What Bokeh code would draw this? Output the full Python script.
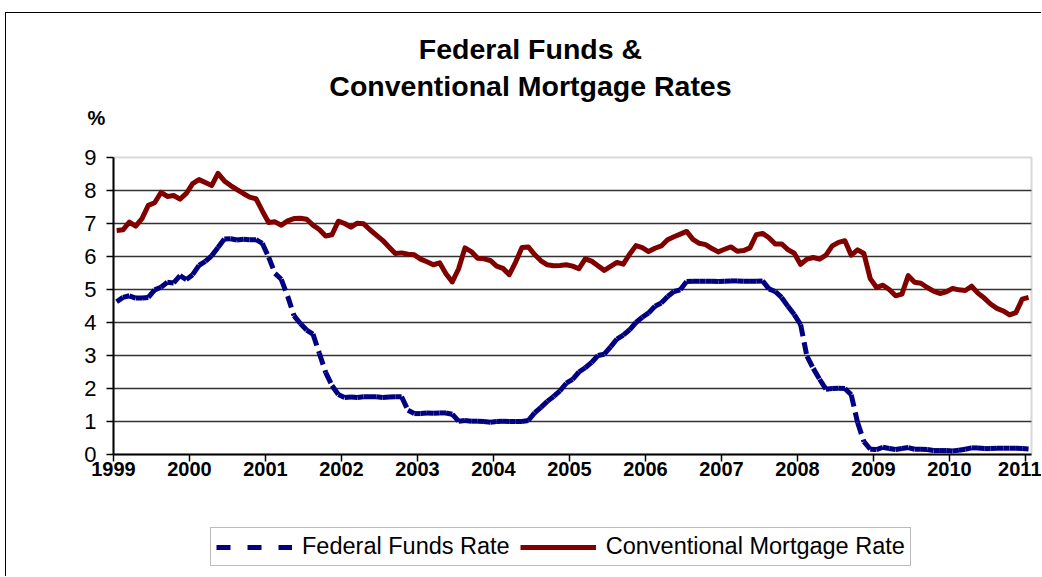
import numpy as np
from bokeh.plotting import figure
from bokeh.models import (Range1d, FixedTicker, Label, Legend, LegendItem,
                          ColumnDataSource, BoxAnnotation)
from bokeh.embed import file_html
from bokeh.resources import INLINE

# ---------------- data (monthly, Jan 1999 - Jan 2011) ----------------
start_year = 1999
year_ticks = list(range(1999, 2012))
y_ticks = list(range(0, 10))
grid_ticks = list(range(1, 9))

fed_funds = [
    4.63, 4.76, 4.81, 4.74, 4.74, 4.76, 4.99, 5.07, 5.22, 5.20, 5.42, 5.30,   # 1999
    5.45, 5.73, 5.85, 6.02, 6.27, 6.53, 6.54, 6.50, 6.52, 6.51, 6.51, 6.40,   # 2000
    5.98, 5.49, 5.31, 4.80, 4.21, 3.97, 3.77, 3.65, 3.07, 2.49, 2.09, 1.82,   # 2001
    1.73, 1.74, 1.73, 1.75, 1.75, 1.75, 1.73, 1.74, 1.75, 1.75, 1.34, 1.24,   # 2002
    1.24, 1.26, 1.25, 1.26, 1.26, 1.22, 1.01, 1.03, 1.01, 1.01, 1.00, 0.98,   # 2003
    1.00, 1.01, 1.00, 1.00, 1.00, 1.03, 1.26, 1.43, 1.61, 1.76, 1.93, 2.16,   # 2004
    2.28, 2.50, 2.63, 2.79, 3.00, 3.04, 3.26, 3.50, 3.62, 3.78, 4.00, 4.16,   # 2005
    4.29, 4.49, 4.59, 4.79, 4.94, 4.99, 5.24, 5.25, 5.25, 5.25, 5.25, 5.24,   # 2006
    5.25, 5.26, 5.26, 5.25, 5.25, 5.25, 5.26, 5.02, 4.94, 4.76, 4.49, 4.24,   # 2007
    3.94, 2.98, 2.61, 2.28, 1.98, 2.00, 2.01, 2.00, 1.81, 0.97, 0.39, 0.16,   # 2008
    0.15, 0.22, 0.18, 0.15, 0.18, 0.21, 0.16, 0.16, 0.15, 0.12, 0.12, 0.12,   # 2009
    0.11, 0.13, 0.16, 0.20, 0.20, 0.18, 0.18, 0.19, 0.19, 0.19, 0.19, 0.18,   # 2010
    0.17,                                                                     # 2011
]

mortgage = [
    6.79, 6.81, 7.04, 6.92, 7.15, 7.55, 7.63, 7.94, 7.82, 7.85, 7.74, 7.91,   # 1999
    8.21, 8.33, 8.24, 8.15, 8.52, 8.29, 8.15, 8.03, 7.91, 7.80, 7.75, 7.38,   # 2000
    7.03, 7.05, 6.95, 7.08, 7.15, 7.16, 7.13, 6.95, 6.82, 6.62, 6.66, 7.07,   # 2001
    7.00, 6.89, 7.01, 6.99, 6.81, 6.65, 6.49, 6.29, 6.09, 6.11, 6.07, 6.05,   # 2002
    5.92, 5.84, 5.75, 5.81, 5.48, 5.23, 5.63, 6.26, 6.15, 5.95, 5.93, 5.88,   # 2003
    5.71, 5.64, 5.45, 5.83, 6.27, 6.29, 6.06, 5.87, 5.75, 5.72, 5.73, 5.75,   # 2004
    5.71, 5.63, 5.93, 5.86, 5.72, 5.58, 5.70, 5.82, 5.77, 6.07, 6.33, 6.27,   # 2005
    6.15, 6.25, 6.32, 6.51, 6.60, 6.68, 6.76, 6.52, 6.40, 6.36, 6.24, 6.14,   # 2006
    6.22, 6.29, 6.16, 6.18, 6.26, 6.66, 6.70, 6.57, 6.38, 6.38, 6.21, 6.10,   # 2007
    5.76, 5.92, 5.97, 5.92, 6.04, 6.32, 6.43, 6.48, 6.04, 6.20, 6.09, 5.33,   # 2008
    5.06, 5.13, 5.00, 4.81, 4.86, 5.42, 5.22, 5.19, 5.06, 4.95, 4.88, 4.93,   # 2009
    5.03, 4.99, 4.97, 5.10, 4.89, 4.74, 4.56, 4.43, 4.35, 4.23, 4.30, 4.71,   # 2010
    4.76,                                                                     # 2011
]

title_lines = ["Federal Funds &", "Conventional Mortgage Rates"]
unit_label = "%"
series_names = ["Federal Funds Rate", "Conventional Mortgage Rate"]

# month index -> decimal year (mid-month)
n = len(fed_funds)
t = [start_year + (i + 0.5) / 12.0 for i in range(n)]

FONT = "Liberation Sans"
NAVY = "#000080"
MAROON = "#800000"

# plot-area extent in data units
X0, X1 = 1999, 2011.08
Y0, Y1 = 0, 9

# the frame fills the whole canvas; axes are pinned with fixed_location
p = figure(width=1036, height=564, output_backend="svg", toolbar_location=None,
           title=None,
           x_range=Range1d(1997.592, 2011.225), y_range=Range1d(-3.727, 13.364))
p.min_border = 0
p.min_border_left = 0
p.min_border_right = 0
p.min_border_top = 0
p.min_border_bottom = 0
p.styles = {"margin-left": "5px", "margin-top": "12px",
            "border-left": "1px solid black", "border-top": "1px solid black"}
p.background_fill_color = "white"
p.border_fill_color = "white"
p.outline_line_color = None

# plot-area border (gray, like the original)
p.add_layout(BoxAnnotation(left=X0, right=X1, bottom=Y0, top=Y1, fill_alpha=0,
                           line_color="#808080", line_width=2, level="underlay"))

# grid
p.xgrid.visible = False
p.ygrid.ticker = FixedTicker(ticks=grid_ticks)
p.ygrid.cross_bounds = (X0, X1)
p.ygrid.grid_line_color = "#333333"
p.ygrid.grid_line_width = 1.3

# axes
p.xaxis.ticker = FixedTicker(ticks=year_ticks)
p.yaxis.ticker = FixedTicker(ticks=y_ticks)
p.xaxis.fixed_location = Y0
p.yaxis.fixed_location = X0
p.xaxis.bounds = (X0, X1)
p.yaxis.bounds = (Y0, Y1)
for ax in (p.xaxis[0], p.yaxis[0]):
    ax.axis_line_color = "black"
    ax.axis_line_width = 2
    ax.major_tick_line_color = "black"
    ax.major_tick_line_width = 1.5
    ax.major_tick_out = 7
    ax.major_tick_in = 0
    ax.minor_tick_line_color = None
    ax.major_label_text_font = FONT
    ax.major_label_text_color = "black"
p.xaxis.major_label_text_font_size = "20px"
p.yaxis.major_label_text_font_size = "22px"
p.xaxis.major_label_text_font_style = "bold"
p.xaxis.major_label_standoff = 0
p.yaxis.major_label_standoff = 10

# federal funds: separate segments so the dash pattern restarts each month
seg_src = ColumnDataSource(dict(x0=t[:-1], y0=fed_funds[:-1], x1=t[1:], y1=fed_funds[1:]))
p.segment(x0="x0", y0="y0", x1="x1", y1="y1", source=seg_src,
          line_color=NAVY, line_width=5, line_dash="12 6", line_cap="butt")

mort_r = p.line(t, mortgage, line_color=MAROON, line_width=5, line_join="round")

# legend sample for the dashed series (a single point draws nothing in the plot)
ff_leg = p.line(x=t[:1], y=fed_funds[:1], line_color=NAVY, line_width=5,
                line_dash="14 17", line_cap="butt")

legend = Legend(items=[LegendItem(label=series_names[0], renderers=[ff_leg]),
                       LegendItem(label=series_names[1], renderers=[mort_r])],
                location=(204, 11), orientation="horizontal",
                label_text_font=FONT, label_text_font_size="23.5px",
                label_text_color="black",
                glyph_width=76, glyph_height=20, label_height=20,
                label_standoff=10, spacing=10, padding=5, margin=0,
                border_line_color="#777777", border_line_width=1.2,
                background_fill_color="white", background_fill_alpha=1)
p.add_layout(legend)

# title and unit label
for txt, ty in ((title_lines[0], 12.303), (title_lines[1], 11.182)):
    p.add_layout(Label(x=2004.487, y=ty, text=txt, text_align="center",
                       text_baseline="middle", text_font=FONT,
                       text_font_style="bold", text_font_size="28.5px",
                       text_color="black"))
p.add_layout(Label(x=1998.776, y=10.212, text=unit_label, text_align="center",
                   text_baseline="middle", text_font=FONT, text_font_style="bold",
                   text_font_size="20px", text_color="black"))

open("out.html", "w").write(file_html(p, INLINE))
